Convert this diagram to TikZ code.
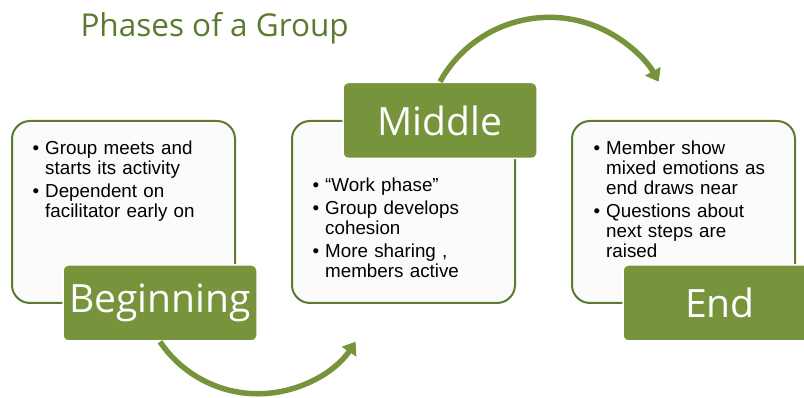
\documentclass[tikz,border=0pt]{standalone}
\usepackage{fontspec}
\setmainfont{Liberation Sans}
\newfontfamily\labelfont{Open Sans}
\usepackage{enumitem}
\setlist[itemize]{label=\textbullet, leftmargin=13pt, labelsep=6pt, itemsep=3pt, topsep=0pt, parsep=0pt, partopsep=0pt}
\usetikzlibrary{arrows.meta}

\definecolor{phasegreen}{HTML}{77933C}
\definecolor{edgegreen}{HTML}{5E7A32}
\definecolor{titlegreen}{HTML}{5A7A30}
\definecolor{boxfill}{HTML}{FBFBFB}

\begin{document}
\begin{tikzpicture}[x=1pt, y=1pt,
    phasebox/.style={draw=edgegreen, line width=2pt, fill=boxfill, rounded corners=18pt,
        minimum width=223pt, minimum height=182pt, inner sep=0pt},
    phaselabel/.style={draw=white, line width=1.5pt, fill=phasegreen, rounded corners=5pt,
        minimum width=194pt, minimum height=76pt, inner sep=0pt, text=white,
        font=\labelfont\fontsize{39}{40}\selectfont},
    bullets/.style={anchor=north west, text width=200pt, inner sep=0pt, align=left,
        font=\fontsize{18.8}{20}\selectfont},
    flow/.style={draw=phasegreen, line width=5.5pt, -{Triangle[width=17pt, length=12pt]}}]
    \clip (0,0) rectangle (804,398);

    \node[anchor=base west, text=titlegreen, font=\labelfont\fontsize{31.5}{33}\selectfont] (title) at (77,361) {Phases of a Group};

    % the three phase boxes
    \node[phasebox] (begbox) at (123.5,186) {};
    \node[phasebox] (midbox) at (403.5,186) {};
    \node[phasebox] (endbox) at (683.5,186) {};

    \node[bullets] (begtext) at ([xshift=21pt, yshift=-14pt]begbox.north west) {%
        \begin{itemize}
            \item Group meets and\\ starts its activity
            \item Dependent on\\ facilitator early on
        \end{itemize}};
    \node[bullets] (midtext) at ([xshift=21pt, yshift=-51pt]midbox.north west) {%
        \begin{itemize}
            \item “Work phase”
            \item Group develops\\ cohesion
            \item More sharing ,\\ members active
        \end{itemize}};
    \node[bullets] (endtext) at ([xshift=22pt, yshift=-14pt]endbox.north west) {%
        \begin{itemize}
            \item Member show\\ mixed emotions as\\ end draws near
            \item Questions about\\ next steps are\\ raised
        \end{itemize}};

    % labels on top
    \node[phaselabel] (beginning) at (160,95) {Beginning};
    \node[phaselabel] (middle) at (440,277.5) {Middle};
    \node[phaselabel] (ending) at (720,95) {End};

    \draw[flow] (beginning.south) arc[start angle=214, end angle=326, radius=118];
    \draw[flow] (middle.north) arc[start angle=151, end angle=29, radius=125];
\end{tikzpicture}
\end{document}
